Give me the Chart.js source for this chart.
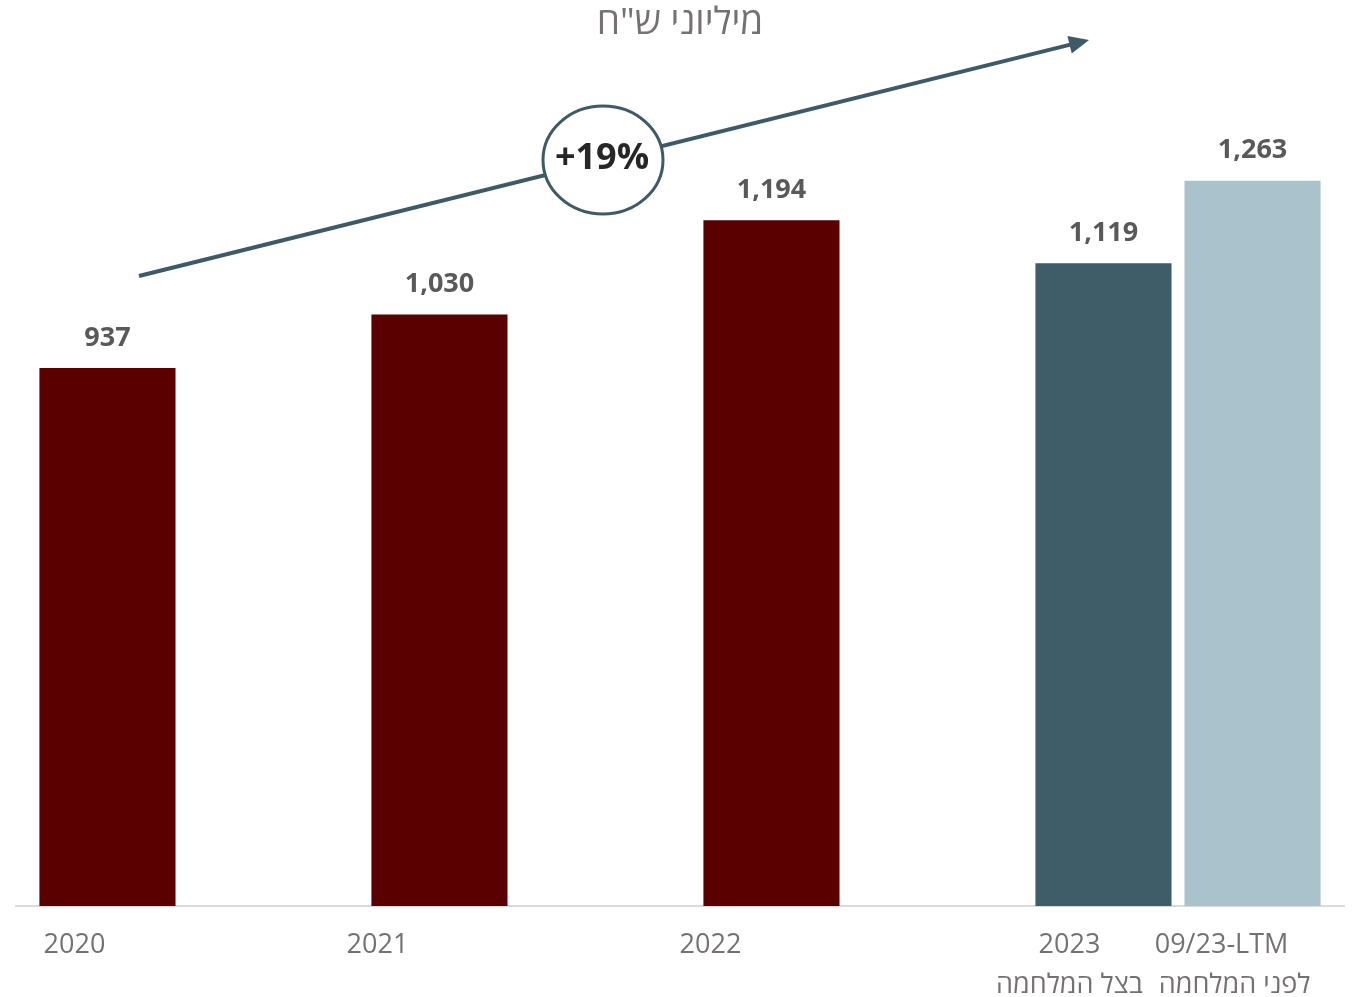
<!DOCTYPE html>
<html>
<head>
<meta charset="utf-8">
<script src="https://cdn.jsdelivr.net/npm/chart.js@4.4.1/dist/chart.umd.min.js"></script>
<style>
  html, body { margin: 0; padding: 0; background: #fff; }
  #wrap { width: 1355px; height: 997px; position: relative; }
</style>
</head>
<body>
<div id="wrap"><canvas id="chart"></canvas></div>
<script>
// data
let categories = ['2020', '2021', '2022', '2023'];
let mainValues = [937, 1030, 1194, 1119];
let ltmValues = [null, null, null, 1263];
let mainColors = ['#5a0000', '#5a0000', '#5a0000', '#3f5d69'];
let ltmColor = '#a9c2cc';
let tickLabels = [['2020'], ['2021'], ['2022'], ['2023', 'בצל המלחמה'], ['09/23-LTM', 'לפני המלחמה']];
let labelShift = [-33, -62, -61, -34, -31];
let titleText = 'מיליוני ש"ח';
let growthText = '+19%';

function fmt(v) {
    return v.toLocaleString('en-US');
}

let overlay = {
    id: 'overlay',
    afterDatasetsDraw(chart) {
        let ctx = chart.ctx;
        ctx.save();

        // bars in drawing order: main bars, then ltm bar
        let bars = [];
        chart.getDatasetMeta(0).data.forEach((b, i) => bars.push({el: b, v: mainValues[i]}));
        chart.getDatasetMeta(1).data.forEach((b, i) => { if (ltmValues[i] != null) bars.push({el: b, v: ltmValues[i]}); });

        // value labels
        ctx.font = 'bold 27px "Open Sans"';
        ctx.fillStyle = '#595959';
        ctx.textAlign = 'center';
        ctx.textBaseline = 'middle';
        bars.forEach(b => ctx.fillText(fmt(b.v), b.el.x, b.el.y - 30));

        // x labels under the axis
        ctx.font = '27px "Open Sans"';
        ctx.fillStyle = '#767171';
        let base = chart.chartArea.bottom;
        bars.forEach((b, i) => {
            let lines = tickLabels[i];
            lines.forEach((t, k) => {
                let dx = (k == 1 && i == 4) ? 13 : 0;
                ctx.fillText(t, b.el.x + labelShift[i] + dx, base + 39 + k * 40);
            });
        });

        // title
        ctx.font = '37px "Open Sans"';
        ctx.fillText(titleText, 680, 23);

        // growth arrow
        let x0 = 139, y0 = 276, x1 = 1089, y1 = 40;
        let ang = Math.atan2(y1 - y0, x1 - x0);
        ctx.strokeStyle = '#3d5a66';
        ctx.fillStyle = '#3d5a66';
        ctx.lineWidth = 4;
        ctx.beginPath();
        ctx.moveTo(x0, y0);
        ctx.lineTo(x1 - 14 * Math.cos(ang), y1 - 14 * Math.sin(ang));
        ctx.stroke();
        ctx.beginPath();
        ctx.moveTo(x1, y1);
        ctx.lineTo(x1 - 20 * Math.cos(ang) + 9 * Math.sin(ang), y1 - 20 * Math.sin(ang) - 9 * Math.cos(ang));
        ctx.lineTo(x1 - 20 * Math.cos(ang) - 9 * Math.sin(ang), y1 - 20 * Math.sin(ang) + 9 * Math.cos(ang));
        ctx.closePath();
        ctx.fill();

        // circle with growth percentage
        ctx.beginPath();
        ctx.ellipse(603, 160, 60, 54, 0, 0, Math.PI * 2);
        ctx.fillStyle = '#fff';
        ctx.fill();
        ctx.lineWidth = 3;
        ctx.stroke();
        ctx.font = 'bold 36px "Open Sans"';
        ctx.fillStyle = '#262626';
        ctx.fillText(growthText, 602, 159);

        ctx.restore();
    }
};

new Chart(document.getElementById('chart'), {
    type: 'bar',
    data: {
        labels: categories,
        datasets: [
            {data: mainValues, backgroundColor: mainColors},
            {data: ltmValues, backgroundColor: ltmColor}
        ]
    },
    options: {
        responsive: true,
        maintainAspectRatio: false,
        animation: false,
        categoryPercentage: 0.898,
        barPercentage: 0.913,
        layout: {padding: {top: 102, bottom: 83, left: 16, right: 11}},
        plugins: {legend: {display: false}, tooltip: {enabled: false}, title: {display: false}},
        scales: {
            x: {
                grid: {display: false},
                ticks: {display: false},
                border: {display: true, color: '#d9d9d9', width: 2}
            },
            y: {
                display: false,
                min: 0,
                max: 1400
            }
        }
    },
    plugins: [overlay]
});
</script>
</body>
</html>
